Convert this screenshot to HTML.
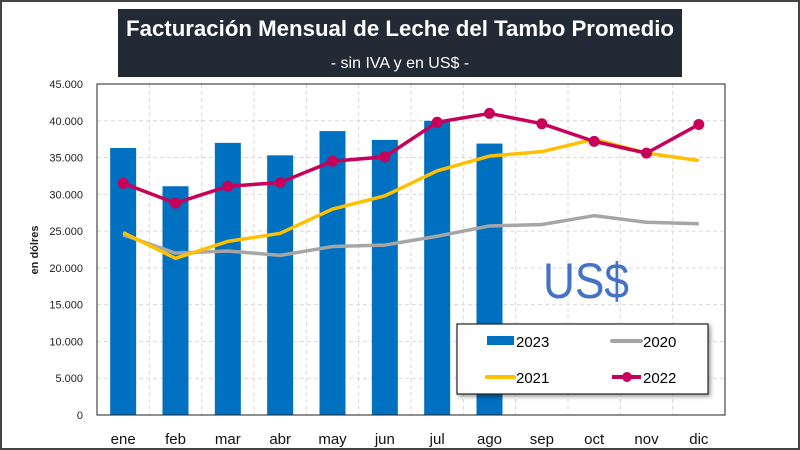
<!DOCTYPE html>
<html><head><meta charset="utf-8"><style>
body{margin:0;background:#fff;}
svg{display:block;font-family:"Liberation Sans",sans-serif;}
</style></head><body>
<svg id="c" width="800" height="450" viewBox="0 0 800 450">
<rect x="1" y="1" width="798" height="448" fill="#fff" stroke="#444" stroke-width="2"/>
<rect x="118" y="9" width="564" height="68" fill="#222a35"/>
<text x="400" y="36" text-anchor="middle" fill="#fff" font-size="22" font-weight="bold" textLength="548" lengthAdjust="spacingAndGlyphs">Facturación Mensual de Leche del Tambo Promedio</text>
<text x="400" y="68" text-anchor="middle" fill="#fff" font-size="16">- sin IVA y en US$ -</text>
<g id="grid"></g><g id="bars"></g><g id="lines"></g><g id="axes"></g>
<text x="586" y="298" text-anchor="middle" fill="#4472c4" font-size="50" textLength="86" lengthAdjust="spacingAndGlyphs">US$</text>
<text transform="translate(38,250) rotate(-90)" text-anchor="middle" font-size="11" font-weight="bold" fill="#222">en dólres</text>
<g>
<rect x="457" y="324" width="251" height="70" fill="#fff" stroke="#222" stroke-width="1.2" style="filter:drop-shadow(2px 2px 2px rgba(0,0,0,.4))"/>
<rect x="487" y="336" width="27" height="9" fill="#0070c0"/>
<text x="516" y="347" font-size="15">2023</text>
<line x1="612" y1="341" x2="641" y2="341" stroke="#a6a6a6" stroke-width="4" stroke-linecap="round"/>
<text x="643" y="347" font-size="15">2020</text>
<line x1="487" y1="377" x2="514" y2="377" stroke="#ffc000" stroke-width="4" stroke-linecap="round"/>
<text x="516" y="383" font-size="15">2021</text>
<line x1="612" y1="377" x2="641" y2="377" stroke="#c8005a" stroke-width="4"/><circle cx="627" cy="377" r="5" fill="#c8005a"/>
<text x="643" y="383" font-size="15">2022</text>
</g>
</svg>
<script>
const months=["ene","feb","mar","abr","may","jun","jul","ago","sep","oct","nov","dic"];
const v2023=[36300,31100,37000,35300,38600,37400,40000,36900];
const v2022=[31500,28800,31100,31600,34500,35100,39800,41000,39600,37200,35600,39500];
const v2021=[24800,21300,23600,24700,28000,29800,33200,35200,35800,37500,35600,34600];
const v2020=[24500,22000,22300,21700,22900,23100,24300,25700,25900,27100,26200,26000];
const yTicks=[0,5000,10000,15000,20000,25000,30000,35000,40000,45000];
const yLabels=["0","5.000","10.000","15.000","20.000","25.000","30.000","35.000","40.000","45.000"];
const L=97,R=725,T=84,B=415,NS="http://www.w3.org/2000/svg";
const cw=(R-L)/months.length;
const x=i=>L+cw*(i+0.5), y=v=>B-(v/45000)*(B-T);
function mk(p,t,a){const e=document.createElementNS(NS,t);for(const k in a)e.setAttribute(k,a[k]);document.getElementById(p).appendChild(e);return e;}
yTicks.forEach((t,i)=>{
 if(t>0){const g=mk('grid','line',{x1:L,x2:R,y1:y(t),y2:y(t),stroke:'#d9d9d9','stroke-dasharray':'4,3'});
 
 }
 const tx=mk('axes','text',{x:L-14,y:y(t)+4,'text-anchor':'end','font-size':11,fill:'#222'});tx.textContent=yLabels[i];
 
 
});
for(let i=1;i<months.length;i++){const g=mk('grid','line',{x1:L+cw*i,x2:L+cw*i,y1:T,y2:B,stroke:'#d9d9d9','stroke-dasharray':'4,3'});
 
 }
const pb=mk('axes','rect',{x:L,y:T,width:R-L,height:B-T,fill:'none',stroke:'#222','stroke-width':1});


months.forEach((m,i)=>{const t=mk('axes','text',{x:x(i),y:444,'text-anchor':'middle','font-size':15,fill:'#111'});t.textContent=m;
 
 });
v2023.forEach((v,i)=>{const b=mk('bars','rect',{x:x(i)-13,y:y(v),width:26,height:B-y(v),fill:'#0070c0'});
 
 });
function line(vals,col,name){const p=mk('lines','polyline',{points:vals.map((v,i)=>x(i)+','+y(v)).join(' '),fill:'none',stroke:col,'stroke-width':3.5,'stroke-linejoin':'round'});
 
 }
line(v2020,'#a6a6a6','line-2020');
line(v2021,'#ffc000','line-2021');
line(v2022,'#c8005a','line-2022');
v2022.forEach((v,i)=>{const c=mk('lines','circle',{cx:x(i),cy:y(v),r:5.5,fill:'#c8005a'});
 
 });
</script>
</body></html>
